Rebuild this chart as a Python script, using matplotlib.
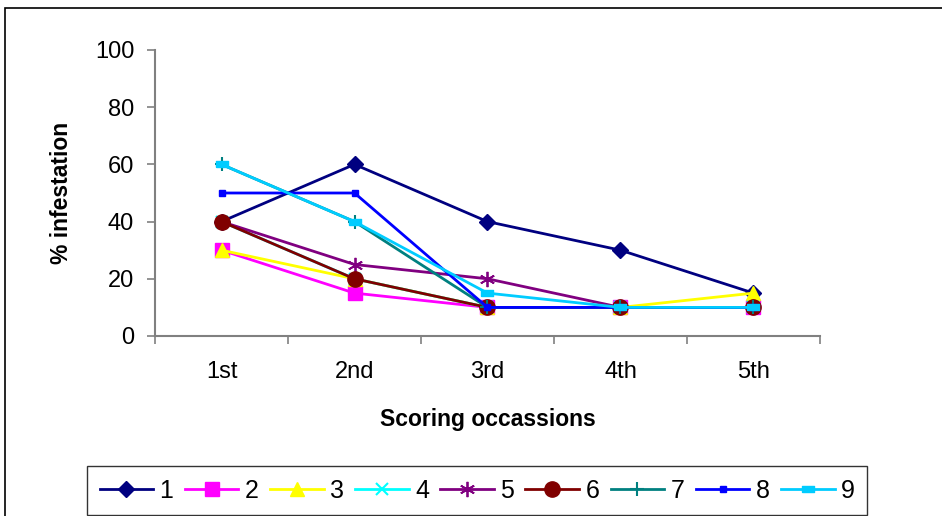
import matplotlib
matplotlib.use("Agg")
import matplotlib.pyplot as plt
from matplotlib.patches import Rectangle

plt.rcParams['font.family'] = ['Liberation Sans', 'DejaVu Sans']

categories = ["1st", "2nd", "3rd", "4th", "5th"]
series_names = ["1", "2", "3", "4", "5", "6", "7", "8", "9"]
s1 = [40, 60, 40, 30, 15]
s2 = [30, 15, 10, 10, 10]
s3 = [30, 20, 10, 10, 15]
s4 = [40, 20, 10, 10, 10]
s5 = [40, 25, 20, 10, 10]
s6 = [40, 20, 10, 10, 10]
s7 = [60, 40, 10, 10, 10]
s8 = [50, 50, 10, 10, 10]
s9 = [60, 40, 15, 10, 10]
yticks = [0, 20, 40, 60, 80, 100]

values = [s1, s2, s3, s4, s5, s6, s7, s8, s9]
colors = ["#000080", "#FF00FF", "#FFFF00", "#00FFFF", "#800080",
          "#800000", "#008080", "#0000FF", "#00CCFF"]
rect = [(-1.0, -0.45), (1.0, -0.45), (1.0, 0.45), (-1.0, 0.45), (-1.0, -0.45)]
markers = ["D", "s", "^", "x", (6, 2, 0), "o", "+", "s", rect]
msizes = [8.5, 10, 10, 9, 11, 11, 10, 5, 9]
mews = [1, 1, 1, 1.5, 1.3, 1, 1.5, 1, 1]

fig = plt.figure(figsize=(9.42, 5.16), dpi=100)
ax = fig.add_axes([155/942, 1-336/516, (820-155)/942, (336-50)/516])

x = list(range(len(categories)))
handles = []
for name, vals, c, m, ms, mw in zip(series_names, values, colors, markers, msizes, mews):
    h, = ax.plot(x, vals, color=c, marker=m, markersize=ms, markeredgewidth=mw,
                 markerfacecolor=c, markeredgecolor=c, linewidth=2, label=name,
                 clip_on=False)
    handles.append(h)

ax.set_xlim(-0.5, len(categories) - 0.5)
ax.set_ylim(0, 100)
ax.set_yticks(yticks)
ax.set_yticklabels([str(v) for v in yticks], fontsize=17)
ax.set_xticks(x)
ax.set_xticklabels(categories, fontsize=17)
ax.set_xticks([i - 0.5 for i in range(len(categories) + 1)], minor=True)
ax.tick_params(axis='x', which='major', length=0, pad=18)
ax.tick_params(axis='x', which='minor', length=6, direction='out', color='#808080', width=1.2)
ax.tick_params(axis='y', length=6, direction='out', color='#808080', width=1.2, pad=9)
for s in ['top', 'right']:
    ax.spines[s].set_visible(False)
for s in ['left', 'bottom']:
    ax.spines[s].set_color('#808080')
    ax.spines[s].set_linewidth(1.5)

ax.set_xlabel("Scoring occassions", fontsize=16.5, fontweight='bold', labelpad=18)
ax.set_ylabel("% infestation", fontsize=16.5, fontweight='bold', labelpad=16)

leg = fig.legend(handles=handles, loc='upper left', bbox_to_anchor=(87/942, 1-466/516),
                 ncol=9, fontsize=18, frameon=True, fancybox=False,
                 handlelength=2.15, handletextpad=0.25, columnspacing=0.45,
                 borderpad=0.5, borderaxespad=0)
leg.get_frame().set_edgecolor('black')
leg.get_frame().set_linewidth(1.0)

fig.patches.append(Rectangle((5/942, -0.02), 1.0, 1-8/516+0.02, transform=fig.transFigure,
                             fill=False, edgecolor='black', linewidth=1.2))

fig.savefig("out.png", dpi=100)
